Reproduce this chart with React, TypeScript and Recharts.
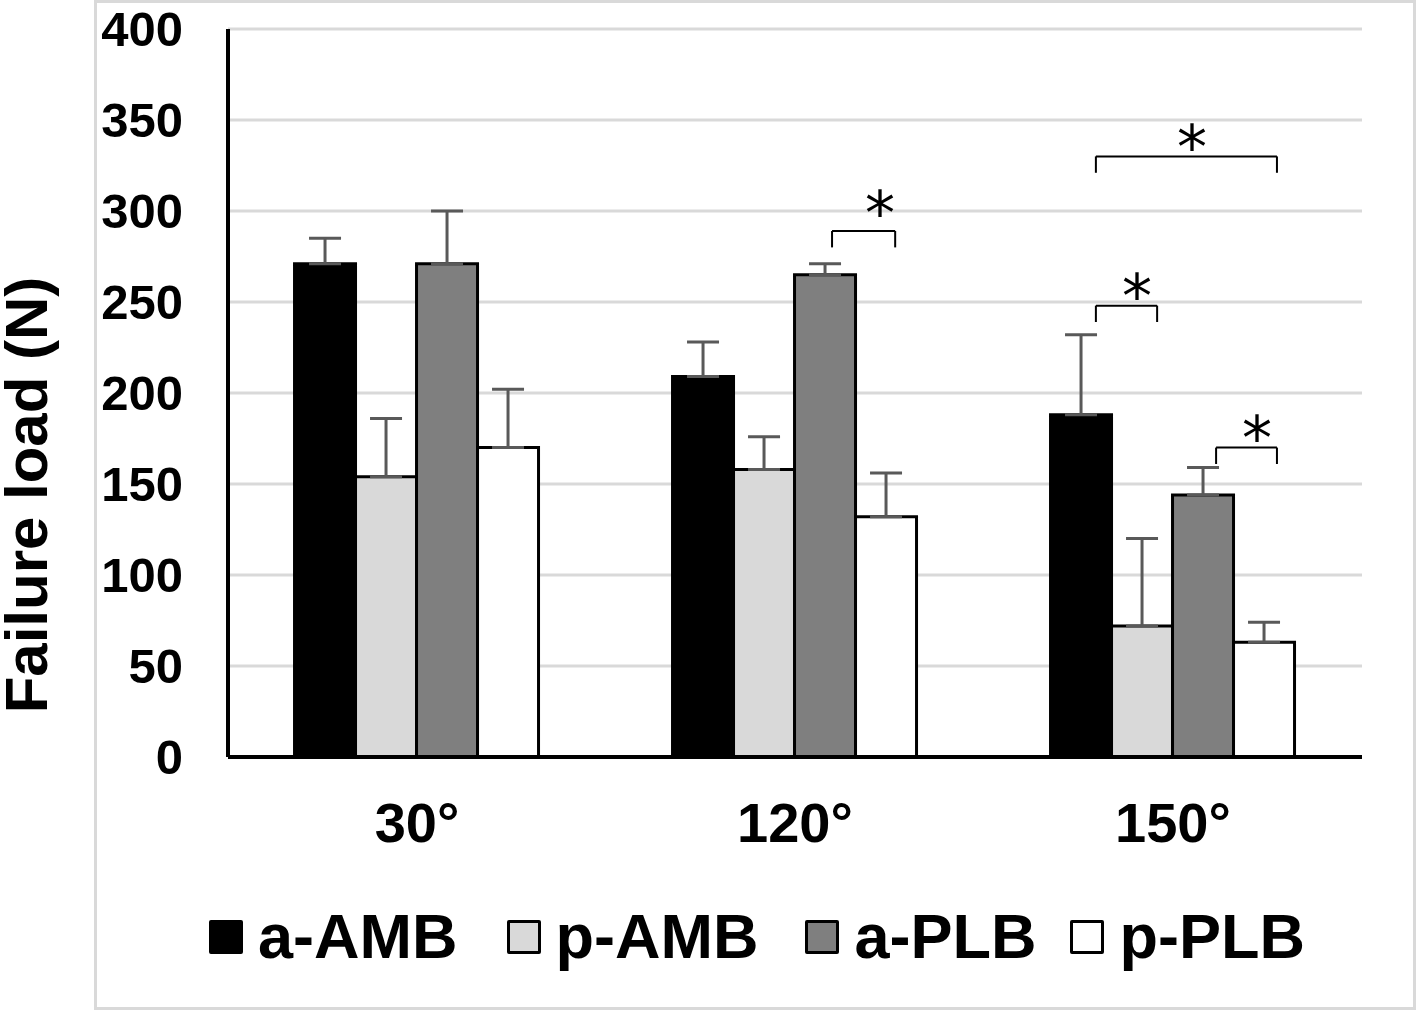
import React from 'react';
import {
  ComposedChart,
  Bar,
  XAxis,
  YAxis,
  CartesianGrid,
  ErrorBar,
  ReferenceLine,
  ReferenceDot,
  Legend,
} from 'recharts';

const categories = ['30°', '120°', '150°'];
const aAMB = [271, 209, 188];
const aAMBErr = [14, 19, 44];
const pAMB = [154, 158, 72];
const pAMBErr = [32, 18, 48];
const aPLB = [271, 265, 144];
const aPLBErr = [29, 6, 15];
const pPLB = [170, 132, 63];
const pPLBErr = [32, 24, 11];
const yTicks = [0, 50, 100, 150, 200, 250, 300, 350, 400];

const seriesNames = ['a-AMB', 'p-AMB', 'a-PLB', 'p-PLB'];
const seriesColors = ['#000000', '#d9d9d9', '#7f7f7f', '#ffffff'];

// significance brackets, x in category units (category i spans [i, i+1])
const bracketX1 = [1.598, 2.296, 2.296, 2.614];
const bracketX2 = [1.765, 2.775, 2.458, 2.775];
const bracketTop = [289, 330, 248, 170];
const bracketBottom = [280, 321, 239, 161];
const starX = [1.725, 2.55, 2.405, 2.722];
const starY = [303, 339, 257, 179];

const data = categories.map((c, i) => ({
  cat: c,
  pos: i + 0.5,
  aAMB: aAMB[i],
  aAMBErr: [0, aAMBErr[i]],
  pAMB: pAMB[i],
  pAMBErr: [0, pAMBErr[i]],
  aPLB: aPLB[i],
  aPLBErr: [0, aPLBErr[i]],
  pPLB: pPLB[i],
  pPLBErr: [0, pPLBErr[i]],
}));

const seriesKeys = ['aAMB', 'pAMB', 'aPLB', 'pPLB'];

const FONT = '"Liberation Sans", Arial, sans-serif';
const STAR_FS = 60;
const legendGaps = [49, 47, 34, 0];

const Star = (props: any) => {
  const { cx, cy } = props;
  if (cx == null || cy == null) return null;
  return (
    <text
      x={cx}
      y={cy + STAR_FS * 0.47}
      textAnchor="middle"
      fontFamily='"DejaVu Sans", sans-serif'
      fontSize={STAR_FS}
      fill="#000"
    >
      *
    </text>
  );
};

const LegendContent = () => (
  <div
    style={{
      display: 'flex',
      flexDirection: 'row',
      alignItems: 'center',
      paddingLeft: 209,
      fontFamily: FONT,
      fontWeight: 'bold',
      fontSize: 63,
      lineHeight: '63px',
      color: '#000',
    }}
  >
    {seriesNames.map((n, i) => (
      <div key={n} style={{ display: 'flex', alignItems: 'center', marginRight: legendGaps[i] }}>
        <div
          style={{
            width: 34,
            height: 34,
            boxSizing: 'border-box',
            background: seriesColors[i],
            border: '3px solid #000',
            borderRadius: 2,
            marginRight: 15,
          }}
        />
        <span>{n}</span>
      </div>
    ))}
  </div>
);

export default function App() {
  return (
    <div
      style={{
        position: 'absolute',
        left: 0,
        top: 0,
        width: 1419,
        height: 1011,
        background: '#fff',
        overflow: 'hidden',
      }}
    >
      <div
        style={{
          position: 'absolute',
          left: 94,
          top: 0,
          width: 1322,
          height: 1010,
          boxSizing: 'border-box',
          border: '3px solid #d9d9d9',
          pointerEvents: 'none',
        }}
      />
      <div style={{ position: 'absolute', left: 0, top: 0 }}>
        <ComposedChart
          width={1419}
          height={1011}
          data={data}
          margin={{ top: 29, right: 57, left: 28, bottom: 174 }}
          barCategoryGap="17.6%"
          barGap={0}
        >
          <CartesianGrid horizontal vertical={false} stroke="#d9d9d9" strokeWidth={3} />
          <XAxis
            dataKey="cat"
            type="category"
            height={80}
            tickLine={false}
            tickSize={0}
            tickMargin={45}
            axisLine={{ stroke: '#000', strokeWidth: 4 }}
            tick={{ fill: '#000', fontSize: 56, fontWeight: 'bold', fontFamily: FONT }}
          />
          <XAxis xAxisId="n" dataKey="pos" type="number" domain={[0, 3]} hide />
          <YAxis
            width={200}
            domain={[0, 400]}
            ticks={yTicks}
            interval={0}
            tickLine={false}
            tickSize={0}
            tickMargin={45}
            axisLine={{ stroke: '#000', strokeWidth: 4 }}
            tick={{ fill: '#000', fontSize: 49, fontWeight: 'bold', fontFamily: FONT }}
            label={{
              content: () => (
                <text
                  x={47}
                  y={495}
                  transform="rotate(-90, 47, 495)"
                  textAnchor="middle"
                  fontFamily={FONT}
                  fontWeight="bold"
                  fontSize={60}
                  fill="#000"
                >
                  Failure load (N)
                </text>
              ),
            }}
          />
          {seriesKeys.map((k, i) => (
            <Bar
              key={k}
              dataKey={k}
              name={seriesNames[i]}
              fill={seriesColors[i]}
              stroke="#000"
              strokeWidth={3}
              isAnimationActive={false}
            >
              <ErrorBar
                dataKey={k + 'Err'}
                direction="y"
                width={16}
                stroke="#595959"
                strokeWidth={3}
                isAnimationActive={false}
              />
            </Bar>
          ))}
          {bracketX1.map((x1, i) => (
            <ReferenceLine
              key={'bt' + i}
              xAxisId="n"
              segment={[
                { x: x1, y: bracketTop[i] },
                { x: bracketX2[i], y: bracketTop[i] },
              ]}
              stroke="#000"
              strokeWidth={2}
            />
          ))}
          {bracketX1.map((x1, i) => (
            <ReferenceLine
              key={'bl' + i}
              xAxisId="n"
              segment={[
                { x: x1, y: bracketTop[i] },
                { x: x1, y: bracketBottom[i] },
              ]}
              stroke="#000"
              strokeWidth={2}
            />
          ))}
          {bracketX2.map((x2, i) => (
            <ReferenceLine
              key={'br' + i}
              xAxisId="n"
              segment={[
                { x: x2, y: bracketTop[i] },
                { x: x2, y: bracketBottom[i] },
              ]}
              stroke="#000"
              strokeWidth={2}
            />
          ))}
          {starX.map((sx, i) => (
            <ReferenceDot
              key={'s' + i}
              xAxisId="n"
              x={sx}
              y={starY[i]}
              r={0}
              shape={Star}
            />
          ))}
          <Legend
            layout="horizontal"
            align="center"
            verticalAlign="middle"
            wrapperStyle={{ position: 'absolute', left: 0, top: 905, width: 1419 }}
            content={LegendContent}
          />
        </ComposedChart>
      </div>
    </div>
  );
}
